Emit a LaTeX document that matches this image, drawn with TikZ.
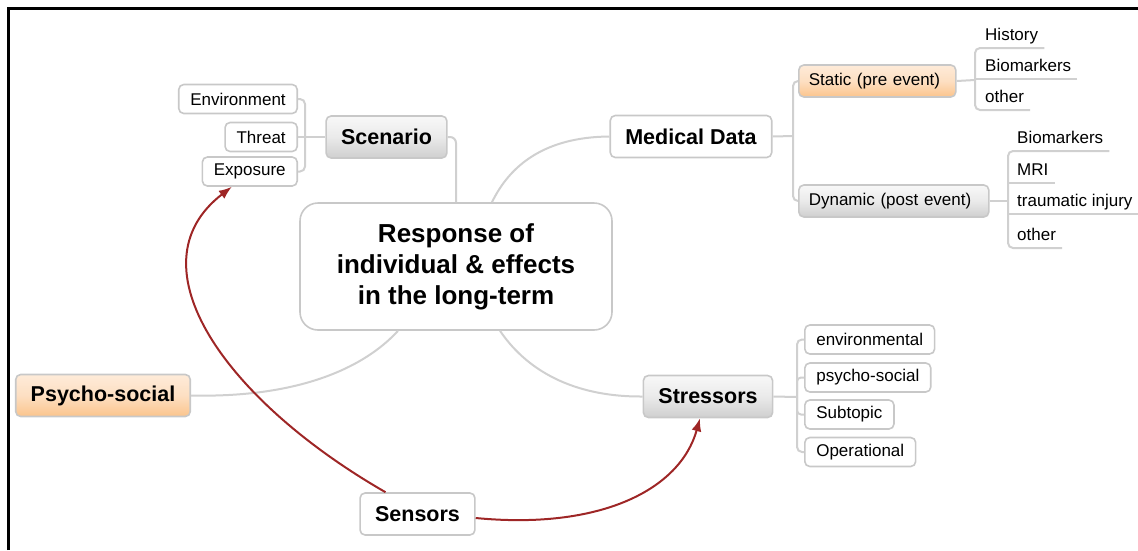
\documentclass[tikz,border=0pt]{standalone}
\usepackage{fontspec}
\setmainfont{Liberation Sans}
\usetikzlibrary{arrows.meta, positioning, calc}

\definecolor{boxline}{HTML}{C8C8C8}
\definecolor{connline}{HTML}{D0D0D0}
\definecolor{graytop}{HTML}{F8F8F8}
\definecolor{graymid}{HTML}{EAEAEA}
\definecolor{graybot}{HTML}{CFCFCF}
\definecolor{peachtop}{HTML}{FEEBD9}
\definecolor{peachmid}{HTML}{FDDFC2}
\definecolor{peachbot}{HTML}{FBC48C}
\definecolor{sensred}{HTML}{9E2626}

\begin{document}
\begin{tikzpicture}[
        x=1pt, y=-1pt,
        font=\fontsize{17}{20}\selectfont,
        box/.style={draw=boxline, line width=1.6pt, rounded corners=5pt, fill=white, inner xsep=11.5pt, inner ysep=0pt, minimum height=29pt},
        topic/.style={box, font=\fontsize{21.5}{24}\selectfont\bfseries, inner xsep=15pt, minimum height=42pt},
        central/.style={box, rounded corners=18pt, font=\fontsize{26}{31}\selectfont\bfseries, align=center, minimum width=312pt, minimum height=127pt},
        phase/.style={box, inner xsep=10pt, align=left, minimum height=32pt},
        grayfill/.style={top color=graytop, bottom color=graybot, middle color=graymid},
        peachfill/.style={top color=peachtop, bottom color=peachbot, middle color=peachmid},
        leaf/.style={inner xsep=0pt, inner ysep=3pt, text height=12.5pt, text depth=4pt, anchor=south west},
        conn/.style={draw=connline, line width=2pt},
        sense/.style={draw=sensred, line width=2pt, -{Latex[length=13pt,width=10pt]}}
    ]
    \useasboundingbox (0,0) rectangle (1138,550);
    \draw[line width=3pt] (8,550) -- (8,8) -- (1138,8);

    % main topics
    \node[central] (resp) at (456,266.5) {Response of\\individual \& effects\\in the long-term};
    \node[topic, grayfill] (scen) at (386.5,137) {Scenario};
    \node[topic] (medical) at (691,136.5) {Medical Data};
    \node[topic, peachfill] (psycho) at (103,395.5) {Psycho-social};
    \node[topic, grayfill] (stress) at (708,396.5) {Stressors};
    \node[topic] (sensors) at (417.5,514) {Sensors};

    % scenario subtopics
    \node[box, anchor=east] (env) at (298,99) {Environment};
    \node[box, anchor=east] (threat) at (298,137) {Threat};
    \node[box, anchor=east] (expo) at (298,171.5) {Exposure};
    \coordinate (scj) at (305,137);

    % medical data subtopics
    \node[phase, peachfill, anchor=west, text width=137pt] (static) at (798,81) {Static (pre event)};
    \node[phase, grayfill, anchor=west, text width=170pt] (dynamic) at (798,201) {Dynamic (post event)};
    \coordinate (mdj) at (793,136);
    \coordinate (sj) at (975,80);
    \coordinate (dj) at (1008,201);
    \node[leaf] (hist) at (985,48) {History};
    \node[leaf] (sbio) at (985,79) {Biomarkers};
    \node[leaf] (sother) at (985,110) {other};
    \node[leaf] (dbio) at (1017,151) {Biomarkers};
    \node[leaf] (mri) at (1017,183) {MRI};
    \node[leaf] (trauma) at (1017,214) {traumatic injury};
    \node[leaf] (dother) at (1017,248) {other};

    % stressor subtopics
    \node[box, anchor=west] (senv) at (804,339.5) {environmental};
    \node[box, anchor=west] (spsy) at (804,377.5) {psycho-social};
    \node[box, anchor=west] (ssub) at (804,414.5) {Subtopic};
    \node[box, anchor=west] (sop) at (804,452) {Operational};
    \coordinate (stj) at (797,397);

    % branches
    \draw[conn, rounded corners=6pt] (scen.east) -| (resp.north);
    \draw[conn] ([xshift=36pt]resp.north) .. controls (510,165) and (545,137) .. (medical.west);
    \draw[conn] (psycho.east) .. controls (300,398) and (365,367) .. ([xshift=-58pt]resp.south);
    \draw[conn] ([xshift=44pt]resp.south) .. controls (530,375) and (580,397) .. (stress.west);

    \draw[conn] (threat.east) -- (scen.west);
    \draw[conn, rounded corners=5pt] (env.east) -| (scj) |- (expo.east);

    \draw[conn] (medical.east) -- (mdj);
    \draw[conn, rounded corners=5pt] (static.west) -| (mdj) |- (dynamic.west);
    \draw[conn] (static.east) -- (sj);
    \draw[conn, rounded corners=5pt] ([xshift=6pt]hist.south east) -- (hist.south east -| sj) |- ([xshift=6pt]sother.south east);
    \draw[conn] ([xshift=6pt]sbio.south east) -- (sbio.south east -| sj);
    \draw[conn] (dynamic.east) -- (dj);
    \draw[conn, rounded corners=5pt] ([xshift=6pt]dbio.south east) -- (dbio.south east -| dj) |- ([xshift=6pt]dother.south east);
    \draw[conn] ([xshift=6pt]mri.south east) -- (mri.south east -| dj);
    \draw[conn] ([xshift=6pt]trauma.south east) -- (trauma.south east -| dj);

    \draw[conn] (stress.east) -- (stj);
    \draw[conn, rounded corners=5pt] (senv.west) -| (stj) |- (sop.west);
    \draw[conn, rounded corners=4pt] (spsy.west) -| (stj);
    \draw[conn, rounded corners=4pt] (ssub.west) -| (stj);

    % sensor links
    \draw[sense] ([xshift=-32pt]sensors.north) .. controls (225,400) and (130,265) .. ([xshift=-18pt]expo.south);
    \draw[sense] ([yshift=-4pt]sensors.east) .. controls (600,530) and (680,490) .. ([xshift=-8pt]stress.south);
\end{tikzpicture}
\end{document}
